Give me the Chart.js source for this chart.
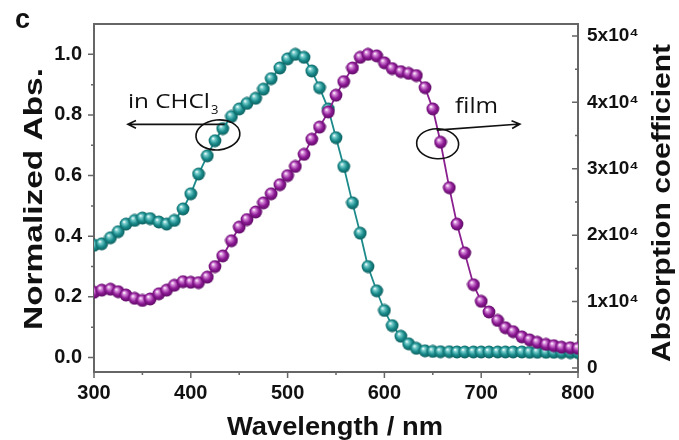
<!DOCTYPE html>
<html>
<head>
<meta charset="utf-8">
<script src="https://cdn.jsdelivr.net/npm/chart.js@4.4.1/dist/chart.umd.min.js"></script>
<style>
  html, body { margin: 0; padding: 0; background: #fff; }
</style>
</head>
<body>
<canvas id="chart" width="679" height="440"></canvas>
<script>
// Wavelength (nm) of each marker
const wavelength = [300, 308, 317, 325, 333, 342, 350, 358, 367, 375, 383, 392, 400, 408, 417, 425, 433, 442, 450, 458,
                    467, 475, 483, 492, 500, 508, 517, 525, 533, 542, 550, 558, 567, 575, 583, 592, 600, 608, 617, 625,
                    633, 642, 650, 658, 667, 675, 683, 692, 700, 708, 717, 725, 733, 742, 750, 758, 767, 775, 783, 792, 800];

// Normalized absorbance in CHCl3 (teal)
const chcl3 = [0.37, 0.375, 0.395, 0.415, 0.44, 0.452, 0.46, 0.458, 0.447, 0.44, 0.452, 0.49, 0.54, 0.605, 0.665, 0.715, 0.755, 0.795, 0.82, 0.838,
               0.855, 0.885, 0.92, 0.955, 0.985, 1.0, 0.99, 0.945, 0.89, 0.82, 0.725, 0.63, 0.51, 0.41, 0.30, 0.22, 0.155, 0.105, 0.07, 0.045,
               0.03, 0.022, 0.02, 0.019, 0.019, 0.018, 0.018, 0.018, 0.018, 0.018, 0.018, 0.018, 0.018, 0.018, 0.017, 0.017, 0.017, 0.017, 0.016, 0.016, 0.016];

// Normalized absorbance of the film (purple)
const film = [0.215, 0.222, 0.225, 0.217, 0.206, 0.195, 0.188, 0.193, 0.21, 0.222, 0.238, 0.25, 0.248, 0.247, 0.265, 0.30, 0.335, 0.385, 0.43, 0.455,
              0.48, 0.51, 0.54, 0.57, 0.60, 0.63, 0.67, 0.72, 0.76, 0.81, 0.865, 0.91, 0.955, 0.99, 1.0, 0.995, 0.972, 0.953, 0.943, 0.937,
              0.93, 0.89, 0.82, 0.71, 0.56, 0.44, 0.345, 0.24, 0.185, 0.15, 0.122, 0.098, 0.085, 0.068, 0.058, 0.05, 0.043, 0.039, 0.034, 0.032, 0.03];

const xTicks = [300, 400, 500, 600, 700, 800];
const xMinor = [350, 450, 550, 650, 750];
const leftTicks = [0, 0.2, 0.4, 0.6, 0.8, 1.0];
const leftMinor = [0.1, 0.3, 0.5, 0.7, 0.9];
const rightTicks = [0, 10000, 20000, 30000, 40000, 50000];
const rightMinor = [5000, 15000, 25000, 35000, 45000];

const TICK_FONT = { family: 'Liberation Sans, Arial, sans-serif', size: 20, weight: 'bold' };

// shaded ball used as point marker
function sphere(light, base, dark) {
  const c = document.createElement('canvas');
  c.width = 14; c.height = 14;
  const g = c.getContext('2d');
  const grad = g.createRadialGradient(5, 4.6, 0.3, 7, 7, 7);
  grad.addColorStop(0, '#ffffff');
  grad.addColorStop(0.2, light);
  grad.addColorStop(0.58, base);
  grad.addColorStop(1, dark);
  g.fillStyle = grad;
  g.beginPath();
  g.arc(7, 7, 6.4, 0, Math.PI * 2);
  g.fill();
  return c;
}

const tealBall = sphere('#7ccfcf', '#1a8c8c', '#0a5656');
const purpleBall = sphere('#d98fdc', '#8e1a96', '#55085b');

function fitText(ctx, txt, x, y, font, width, rot, align) {
  ctx.save();
  ctx.translate(x, y);
  ctx.rotate(rot || 0);
  ctx.font = font;
  const w = ctx.measureText(txt).width;
  ctx.scale(width / w, 1);
  ctx.textAlign = align || 'center';
  ctx.textBaseline = 'alphabetic';
  ctx.fillText(txt, 0, 0);
  ctx.restore();
}

function arrow(ctx, x1, y1, x2, y2) {
  const a = Math.atan2(y2 - y1, x2 - x1);
  ctx.beginPath();
  ctx.moveTo(x1, y1);
  ctx.lineTo(x2, y2);
  ctx.moveTo(x2 - 9 * Math.cos(a - 0.45), y2 - 9 * Math.sin(a - 0.45));
  ctx.lineTo(x2, y2);
  ctx.lineTo(x2 - 9 * Math.cos(a + 0.45), y2 - 9 * Math.sin(a + 0.45));
  ctx.stroke();
}

const frame = {
  id: 'frame',
  afterDraw(chart) {
    const { ctx, chartArea: a, scales } = chart;
    const x = scales.x, y = scales.y, y2 = scales.y2;
    ctx.save();
    ctx.strokeStyle = '#666';
    ctx.lineWidth = 2;
    // top border of the box
    ctx.beginPath();
    ctx.moveTo(a.left - 1, a.top);
    ctx.lineTo(a.right + 1, a.top);
    ctx.stroke();

    ctx.lineWidth = 1.5;
    ctx.beginPath();
    xTicks.forEach(v => { const p = x.getPixelForValue(v); ctx.moveTo(p, a.bottom); ctx.lineTo(p, a.bottom + 6); });
    xMinor.forEach(v => { const p = x.getPixelForValue(v); ctx.moveTo(p, a.bottom); ctx.lineTo(p, a.bottom + 3); });
    leftTicks.forEach(v => { const p = y.getPixelForValue(v); ctx.moveTo(a.left, p); ctx.lineTo(a.left - 6, p); });
    leftMinor.forEach(v => { const p = y.getPixelForValue(v); ctx.moveTo(a.left, p); ctx.lineTo(a.left - 3, p); });
    rightTicks.forEach(v => { const p = y2.getPixelForValue(v); ctx.moveTo(a.right, p); ctx.lineTo(a.right - 6, p); });
    rightMinor.forEach(v => { const p = y2.getPixelForValue(v); ctx.moveTo(a.right, p); ctx.lineTo(a.right - 3, p); });
    ctx.stroke();

    // axis titles and panel letter
    ctx.fillStyle = '#111';
    fitText(ctx, 'Wavelength / nm', 335, 435, 'bold 26px Liberation Sans, Arial, sans-serif', 216);
    fitText(ctx, 'Normalized Abs.', 42, 199, 'bold 26px Liberation Sans, Arial, sans-serif', 262, -Math.PI / 2);
    fitText(ctx, 'Absorption coefficient', 670, 203, 'bold 26px Liberation Sans, Arial, sans-serif', 318, -Math.PI / 2);
    ctx.font = 'bold 27px Liberation Sans, Arial, sans-serif';
    ctx.textAlign = 'left';
    ctx.fillText('c', 15, 28);

    // annotations
    ctx.strokeStyle = '#111';
    ctx.lineWidth = 1.6;
    const px = v => x.getPixelForValue(v), py = v => y.getPixelForValue(v);
    arrow(ctx, px(435), py(0.769), px(335), py(0.769));
    ctx.beginPath();
    ctx.ellipse(px(428), py(0.734), 22, 15, -0.1, 0, Math.PI * 2);
    ctx.stroke();
    arrow(ctx, px(654), py(0.75), px(740), py(0.77));
    ctx.beginPath();
    ctx.ellipse(px(655), py(0.705), 21, 15, 0.05, 0, Math.PI * 2);
    ctx.stroke();

    fitText(ctx, 'in CHCl', px(335), py(0.824), '20px Open Sans, Lato, sans-serif', 82, 0, 'left');
    ctx.font = '13px Open Sans, Lato, sans-serif';
    ctx.textAlign = 'left';
    ctx.fillText('3', px(335) + 83, py(0.824) + 6);
    fitText(ctx, 'film', px(673), py(0.808), '21px Open Sans, Lato, sans-serif', 43, 0, 'left');
    ctx.restore();
  }
};

new Chart(document.getElementById('chart'), {
  type: 'line',
  data: {
    datasets: [
      {
        label: 'film',
        data: wavelength.map((w, i) => ({ x: w, y: film[i] })),
        borderColor: '#8a1f8f',
        borderWidth: 1.8,
        pointStyle: purpleBall,
        pointRadius: 7,
        tension: 0
      },
      {
        label: 'in CHCl3',
        data: wavelength.map((w, i) => ({ x: w, y: chcl3[i] })),
        borderColor: '#1c8a8a',
        borderWidth: 1.8,
        pointStyle: tealBall,
        pointRadius: 7,
        tension: 0
      }
    ]
  },
  options: {
    responsive: false,
    animation: false,
    devicePixelRatio: 1,
    layout: { padding: { top: 14, left: 0, right: 0, bottom: 0 } },
    plugins: { legend: { display: false }, tooltip: { enabled: false } },
    scales: {
      x: {
        type: 'linear',
        position: 'bottom',
        min: 300,
        max: 800,
        afterBuildTicks: s => { s.ticks = xTicks.map(v => ({ value: v })); },
        afterFit: s => { s.height = 68; },
        ticks: { font: TICK_FONT, color: '#111', padding: 9, maxRotation: 0 },
        grid: { display: false, drawTicks: false },
        border: { display: true, color: '#666', width: 2 }
      },
      y: {
        position: 'left',
        min: -0.048,
        max: 1.1,
        afterBuildTicks: s => { s.ticks = leftTicks.map(v => ({ value: v })); },
        afterFit: s => { s.width = 94; },
        ticks: { font: TICK_FONT, color: '#111', padding: 12, callback: v => v.toFixed(1) },
        grid: { display: false, drawTicks: false },
        border: { display: true, color: '#666', width: 2 }
      },
      y2: {
        position: 'right',
        min: -600,
        max: 51800,
        afterBuildTicks: s => { s.ticks = rightTicks.map(v => ({ value: v })); },
        afterFit: s => { s.width = 101; },
        ticks: { font: { family: 'Liberation Sans, Arial, sans-serif', size: 19, weight: 'bold' }, color: '#111', padding: 9,
                 callback: v => v === 0 ? '0' : (v / 10000) + 'x10\u2074' },
        grid: { display: false, drawTicks: false },
        border: { display: true, color: '#666', width: 2 }
      }
    }
  },
  plugins: [frame]
});
</script>
</body>
</html>
